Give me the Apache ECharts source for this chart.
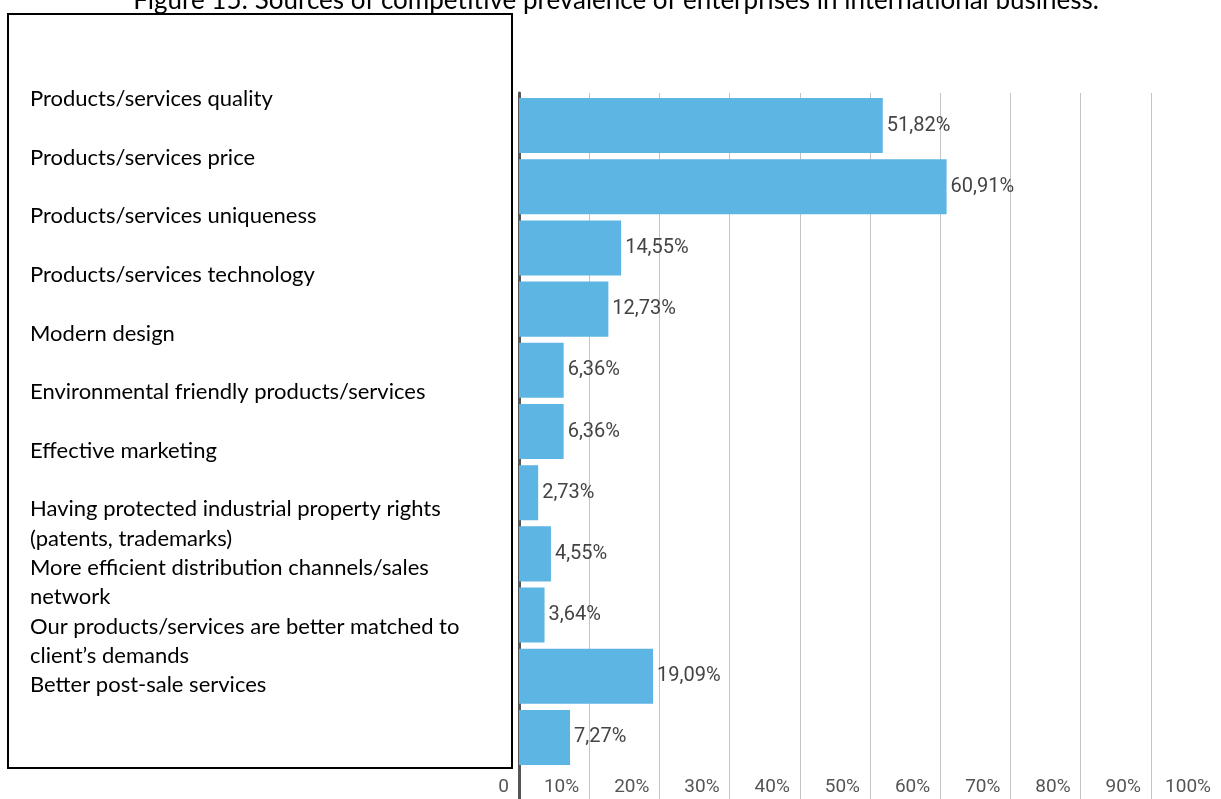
<!DOCTYPE html>
<html>
<head>
<meta charset="utf-8">
<style>
  html, body { margin: 0; padding: 0; background: #ffffff; }
  #chart { width: 1221px; height: 799px; }
</style>
<script src="https://cdn.jsdelivr.net/npm/echarts@6/dist/echarts.min.js"></script>
</head>
<body>
<div id="chart"></div>
<script>
// Figure title
const titleText = 'Figure 15: Sources of competitive prevalence of enterprises in international business.';

// Sources of competitive prevalence (line breaks follow the wrapped list text)
const categories = [
  'Products/services quality',
  'Products/services price',
  'Products/services uniqueness',
  'Products/services technology',
  'Modern design',
  'Environmental friendly products/services',
  'Effective marketing',
  'Having protected industrial property rights\n(patents, trademarks)',
  'More efficient distribution channels/sales\nnetwork',
  'Our products/services are better matched to\nclient\u2019s demands',
  'Better post-sale services'
];

// Share of enterprises, percent (one bar per row, top to bottom)
const shares = [51.82, 60.91, 14.55, 12.73, 6.36, 6.36, 2.73, 4.55, 3.64, 19.09, 7.27];

// Value axis ticks
const axisMin = 0;
const axisMax = 100;
const axisStep = 10;

const fmtPct = v => v.toFixed(2).replace('.', ',') + '%';

// Each list entry takes two text lines; one-line entries get a blank line after.
const listLines = [];
categories.forEach(c => {
  const parts = c.split('\n');
  listLines.push(parts[0]);
  listLines.push(parts[1] !== undefined ? parts[1] : '');
});

const chart = echarts.init(document.getElementById('chart'), null, { renderer: 'canvas' });

const option = {
  backgroundColor: '#ffffff',
  animation: false,
  grid: [
    { left: 519, right: -7, top: 95, bottom: 31 },
    { left: 519, right: -7, top: 93, bottom: 0 }
  ],
  xAxis: [
    {
      gridIndex: 0,
      type: 'value',
      min: axisMin,
      max: axisMax,
      interval: axisStep,
      axisLine: { show: false },
      axisTick: { show: false },
      splitLine: { show: false },
      axisLabel: {
        show: true,
        showMinLabel: true,
        showMaxLabel: true,
        align: 'right',
        padding: [0, 10, 0, 0],
        margin: 10,
        color: '#555555',
        fontFamily: 'Roboto',
        fontSize: 19,
        formatter: v => (v === 0 ? '0' : v + '%')
      }
    },
    {
      gridIndex: 1,
      type: 'value',
      min: axisMin,
      max: axisMax,
      interval: axisStep,
      axisLine: { show: false },
      axisTick: { show: false },
      axisLabel: { show: false },
      splitLine: { show: true, lineStyle: { color: '#c4c4c4', width: 1 } }
    }
  ],
  yAxis: [
    {
      gridIndex: 0,
      type: 'category',
      inverse: true,
      data: categories,
      axisLine: { show: false },
      axisTick: { show: false },
      axisLabel: { show: false }
    },
    {
      gridIndex: 1,
      type: 'value',
      min: 0,
      max: 1,
      axisLine: { show: true, onZero: false, lineStyle: { color: '#555555', width: 3 } },
      axisTick: { show: false },
      axisLabel: { show: false },
      splitLine: { show: false }
    }
  ],
  series: [
    {
      type: 'bar',
      xAxisIndex: 0,
      yAxisIndex: 0,
      data: shares,
      barCategoryGap: '10%',
      itemStyle: { color: '#5db5e4' },
      label: {
        show: true,
        position: 'right',
        distance: 4,
        color: '#444444',
        fontFamily: 'Roboto',
        fontSize: 20,
        formatter: p => fmtPct(p.value)
      }
    }
  ],
  graphic: [
    {
      type: 'text',
      z: 10,
      x: 616,
      y: 14,
      style: {
        text: titleText,
        fontFamily: 'Lato',
        fontSize: 26,
        lineHeight: 26,
        fill: '#000000',
        align: 'center',
        verticalAlign: 'bottom'
      }
    },
    {
      type: 'rect',
      z: 10,
      shape: { x: 8, y: 14, width: 504, height: 754 },
      style: { fill: '#ffffff', stroke: '#000000', lineWidth: 2 }
    },
    {
      type: 'text',
      z: 11,
      x: 30,
      y: 84.5,
      style: {
        text: listLines.join('\n'),
        fontFamily: 'Lato',
        fontSize: 22,
        lineHeight: 29.3,
        fill: '#000000',
        verticalAlign: 'top'
      }
    }
  ]
};

chart.setOption(option);
</script>
</body>
</html>
